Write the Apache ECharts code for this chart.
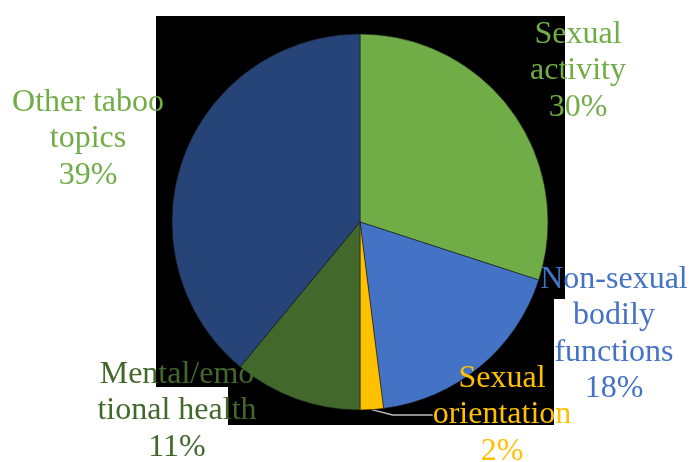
<!DOCTYPE html>
<html>
<head>
<meta charset="utf-8">
<script src="https://cdn.jsdelivr.net/npm/echarts@6/dist/echarts.min.js"></script>
<style>html,body{margin:0;padding:0;background:#fff;}#c{width:691px;height:462px;}</style>
</head>
<body>
<div id="c"></div>
<script>
const categories = ['Sexual\nactivity', 'Non-sexual\nbodily\nfunctions', 'Sexual\norientation', 'Mental/emo\ntional health', 'Other taboo\ntopics'];
const values = [30, 18, 2, 11, 39];
const sliceColors = ['#70AD47', '#4472C4', '#FFC000', '#43682B', '#264478'];
const labelColors = ['#70AD47', '#4472C4', '#FFC000', '#43682B', '#70AD47'];
const labelCenters = [[578, 71], [614, 334], [502, 415], [177, 411], [88, 139]];

const chart = echarts.init(document.getElementById('c'), null, {renderer: 'canvas'});
chart.setOption({
  backgroundColor: '#ffffff',
  animation: false,
  graphic: [{
    type: 'polygon', z: -10, silent: true,
    shape: {points: [[156,16],[565,16],[565,299],[554,299],[554,425],[228,425],[228,387],[156,387]]},
    style: {fill: '#000000'}
  }],
  series: [{
    type: 'pie',
    center: [360, 222],
    radius: 188,
    startAngle: 90,
    clockwise: true,
    avoidLabelOverlap: false,
    data: categories.map((n, i) => ({
      name: n, value: values[i],
      itemStyle: {color: sliceColors[i]},
      label: {color: labelColors[i]},
      labelLine: {show: i === 2}
    })),
    itemStyle: {borderColor: '#1a1a1a', borderWidth: 0.6},
    label: {
      show: true,
      position: 'outside',
      formatter: p => p.name + '\n' + p.value + '%',
      fontFamily: '"Liberation Serif", "Times New Roman", serif',
      fontSize: 32,
      lineHeight: 36.5,
      align: 'center'
    },
    labelLine: {lineStyle: {color: '#BFBFBF', width: 1.5}, length: 10, length2: 40},
    labelLayout: function (params) {
      const p = labelCenters[params.dataIndex];
      return {x: p[0], y: p[1], align: 'center', verticalAlign: 'middle'};
    }
  }]
});
</script>
</body>
</html>
